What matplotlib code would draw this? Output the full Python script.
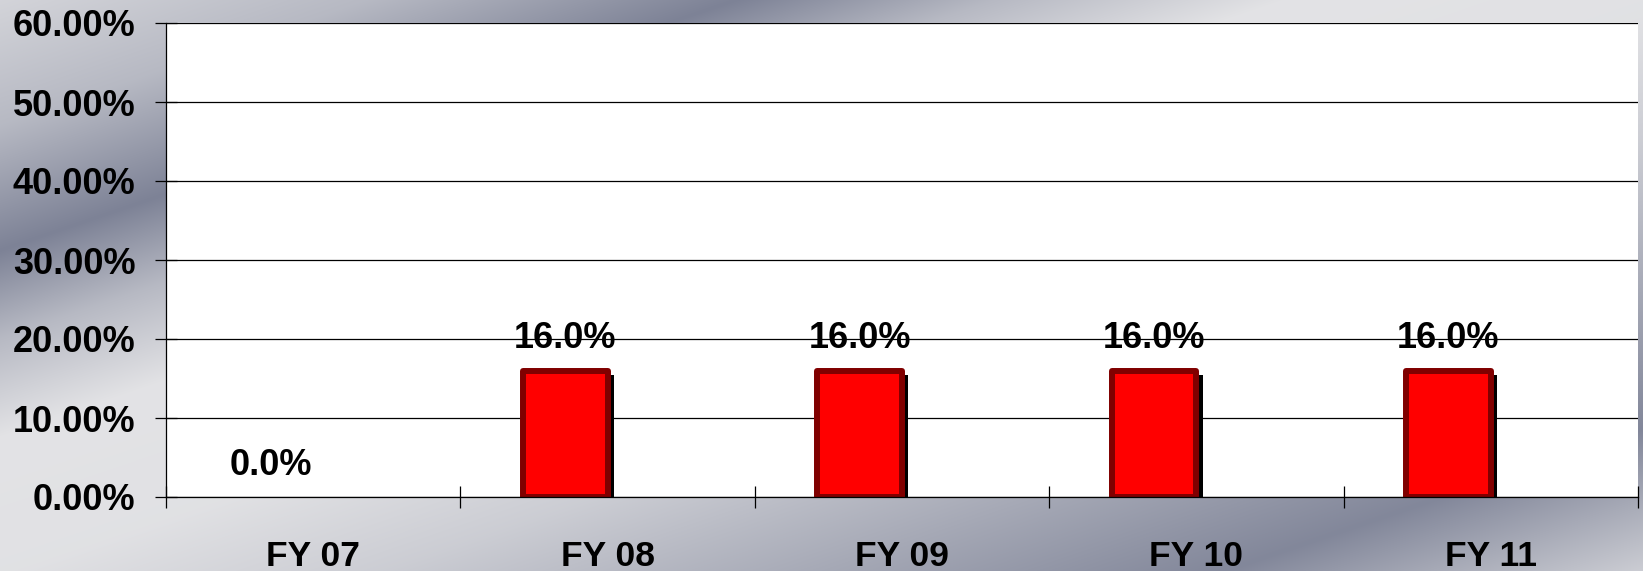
import numpy as np
import matplotlib
matplotlib.use("Agg")
import matplotlib.pyplot as plt
import matplotlib.patheffects as pe

plt.rcParams['font.family'] = ['Liberation Sans', 'DejaVu Sans']
plt.rcParams['font.weight'] = 'bold'

# data
years = ["FY 07", "FY 08", "FY 09", "FY 10", "FY 11"]
rates = [0.0, 16.0, 16.0, 16.0, 16.0]
y_ticks = [0, 10, 20, 30, 40, 50, 60]

W, H = 1643, 571
fig = plt.figure(figsize=(W / 100, H / 100), dpi=100)

# brushed metal background
bg = fig.add_axes([0, 0, 1, 1], zorder=-10)
xx, yy = np.meshgrid(np.arange(W), np.arange(H))
u = xx / 735.0 + yy / 250.0
nodes = [0.0, 0.5, 1.0, 1.35, 1.75, 2.3, 2.8, 3.3, 3.95, 4.6, 6.0]
vals = [0.82, 0.55, 0.0, 0.55, 0.97, 0.95, 0.75, 0.45, 0.05, 0.85, 0.9]
t = np.interp(u, nodes, vals)
dark = np.array([125, 130, 150]) / 255.0
light = np.array([230, 230, 232]) / 255.0
img = dark[None, None, :] + (light - dark)[None, None, :] * t[:, :, None]
bg.imshow(img, aspect='auto', extent=[0, 1, 0, 1], origin='upper')
bg.axis('off')

ax = fig.add_axes([166 / W, 1 - 497 / H, (1638 - 166) / W, (497 - 23) / H])
ax.set_facecolor('white')

x = np.arange(len(years))
bw = 0.288
bars = ax.bar(x - bw, rates, width=bw, align='edge', color='#FF0000',
              edgecolor='#800000', linewidth=4.3, joinstyle='round', zorder=3)
for b, r in zip(bars, rates):
    if r == 0:
        b.set_visible(False)
        continue
    b.set_path_effects([pe.SimplePatchShadow(offset=(4.5, -3.2), shadow_rgbFace='black', alpha=1.0),
                        pe.Normal()])

for xi, r in zip(x, rates):
    ax.annotate(f"{r:.1f}%", (xi - bw / 2, r), xytext=(0, 16), textcoords='offset points',
                ha='center', va='baseline', fontsize=26, fontweight='bold', zorder=5)

ax.set_xlim(-0.5, len(years) - 0.5)
ax.set_ylim(0, 60)
ax.set_yticks(y_ticks)
ax.set_yticklabels([f"{v:.2f}%" for v in y_ticks])
ax.yaxis.grid(True, color='black', linewidth=0.9)
ax.set_axisbelow(True)

ax.set_xticks(np.arange(-0.5, len(years), 1.0))
ax.set_xticklabels([])
ax.set_xticks(x, minor=True)
ax.set_xticklabels(years, minor=True)
ax.tick_params(axis='x', which='major', direction='inout', length=16, width=0.9, color='black')
ax.tick_params(axis='x', which='minor', length=0, pad=31, labelsize=25.5)
ax.tick_params(axis='y', direction='inout', length=16, width=0.9, pad=14, labelsize=26)

for s in ['top', 'right']:
    ax.spines[s].set_visible(False)
ax.spines['left'].set_linewidth(0.9)
ax.spines['bottom'].set_linewidth(0.9)
ax.spines['bottom'].set_zorder(4)

fig.savefig("out.png", dpi=100)
